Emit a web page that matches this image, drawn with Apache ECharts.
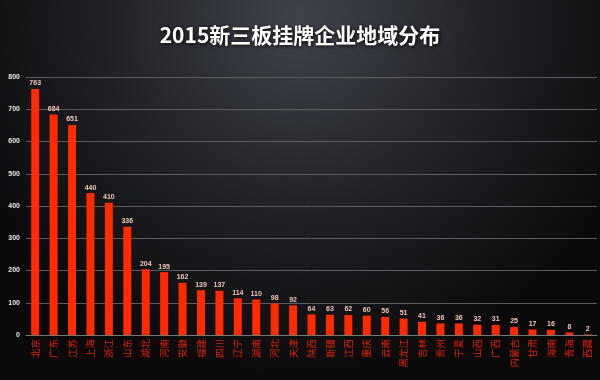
<!DOCTYPE html>
<html><head><meta charset="utf-8">
<script src="https://cdn.jsdelivr.net/npm/echarts@6/dist/echarts.min.js"></script>
<style>html,body{margin:0;padding:0;background:#111;}#c{width:600px;height:380px;}</style>
</head><body><div id="c"></div>
<script>
const titleText = '2015新三板挂牌企业地域分布';
const provinces = ['北京','广东','江苏','上海','浙江','山东','湖北','河南','安徽','福建','四川','辽宁','湖南','河北','天津','陕西','新疆','江西','重庆','云南','黑龙江','吉林','贵州','宁夏','山西','广西','内蒙古','甘肃','海南','青海','西藏'];
const counts = [763,684,651,440,410,336,204,195,162,139,137,114,110,98,92,64,63,62,60,56,51,41,36,36,32,31,25,17,16,8,2];
const yTicks = [0,100,200,300,400,500,600,700,800];

const chart = echarts.init(document.getElementById('c'), null, {renderer:'canvas'});
chart.setOption({
  backgroundColor: {type:'radial', x:0.5, y:0.05, r:0.95, colorStops:[
    {offset:0, color:'#40434c'}, {offset:0.55, color:'#1f2125'}, {offset:1, color:'#0a0a0b'}]},
  title: {text: titleText, left:'center', top:20,
    textStyle:{color:'#ffffff', fontSize:21, fontWeight:'bold', fontFamily:'Noto Sans CJK SC',
      textShadowColor:'rgba(0,0,0,0.9)', textShadowBlur:4, textShadowOffsetX:1, textShadowOffsetY:1}},
  grid: {left:26, right:3, top:77, bottom:45, containLabel:false},
  xAxis: {type:'category', data: provinces,
    axisLine:{lineStyle:{color:'#777', width:1}}, axisTick:{show:false},
    axisLabel:{color:'#e42200', fontSize:9.5, margin:4, interval:0, rotate:90,
      fontFamily:'Noto Sans CJK SC'}},
  yAxis: {type:'value', min:yTicks[0], max:yTicks[yTicks.length-1], interval:100,
    axisLine:{show:false}, axisTick:{show:false},
    axisLabel:{color:'#e8e8e8', fontSize:7, margin:6, fontFamily:'Liberation Sans', fontWeight:'bold'},
    splitLine:{lineStyle:{color:'#5a5c62', width:1}}},
  series: [{type:'bar', data: counts, barWidth:8,
    itemStyle:{color:'#ff2a00'},
    label:{show:true, position:'top', distance:2, color:'#f6c6b8', fontSize:7, fontWeight:'bold',
      fontFamily:'Liberation Sans'}}]
});
</script></body></html>
